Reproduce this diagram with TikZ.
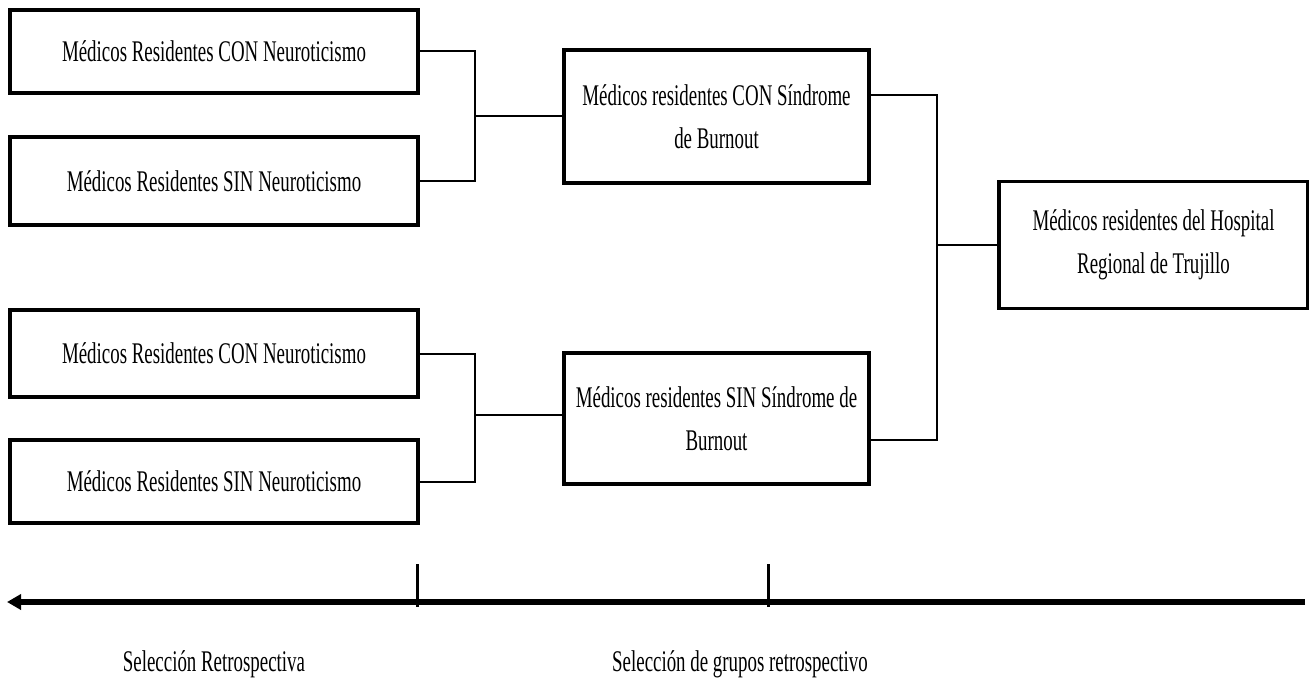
\documentclass[tikz,border=0pt]{standalone}
\usepackage{fontspec}
\setmainfont{Liberation Serif}[FakeStretch=0.63]
\usetikzlibrary{arrows.meta}
\begin{document}
\begin{tikzpicture}[x=0.5pt,y=-0.5pt,line join=miter,
	font=\fontsize{15}{21.5}\selectfont,
	>={Triangle[length=7pt,width=7.5pt]},
	box/.style={draw,line width=1.7pt,align=center,inner sep=0pt},
	conn/.style={line width=1pt},
	axis/.style={line width=2.6pt}]
	\useasboundingbox (0,0) rectangle (1309,689);
	% columna izquierda
	\node[box,minimum width=204pt,minimum height=41.5pt] (A1) at (214,51.5) {Médicos Residentes CON Neuroticismo};
	\node[box,minimum width=204pt,minimum height=44pt] (A2) at (214,181) {Médicos Residentes SIN Neuroticismo};
	\node[box,minimum width=204pt,minimum height=43.5pt] (A3) at (214,353.5) {Médicos Residentes CON Neuroticismo};
	\node[box,minimum width=204pt,minimum height=41.5pt] (A4) at (214,481.5) {Médicos Residentes SIN Neuroticismo};
	% columna central
	\node[box,minimum width=152.5pt,minimum height=66.5pt] (B1) at (716.5,116.5) {Médicos residentes CON Síndrome\\de Burnout};
	\node[box,minimum width=152.5pt,minimum height=65.5pt] (B2) at (716.5,418.5) {Médicos residentes SIN Síndrome de\\Burnout};
	% derecha
	\node[box,minimum width=154.5pt,minimum height=63.5pt] (C) at (1153.5,245) {Médicos residentes del Hospital\\Regional de Trujillo};
	% uniones
	\coordinate (J1) at (475,116.5);
	\coordinate (J2) at (475,415);
	\coordinate (J3) at (937,245);
	\draw[conn] (A1.east) -| (J1) |- (A2.east);
	\draw[conn] (J1) -- (B1.west);
	\draw[conn] (A3.east) -| (J2) |- (A4.east);
	\draw[conn] (J2) -- (J2 -| B2.west);
	\draw[conn] ([yshift=10.75pt]B1.east) -| (J3) |- ([yshift=-10.75pt]B2.east);
	\draw[conn] (J3) -- (C.west);
	% eje temporal
	\coordinate (R) at (1305,602);
	\coordinate (L) at (7,602);
	\coordinate (T1) at (417,564);
	\coordinate (T2) at (768,564);
	\draw[axis,->] (R) -- (L);
	\draw[line width=1.5pt] (T1) -- ++(0,43);
	\draw[line width=1.5pt] (T2) -- ++(0,43);
	\node (S1) at (214,664) {Selección Retrospectiva};
	\node (S2) at (740,664) {Selección de grupos retrospectivo};
\end{tikzpicture}
\end{document}
